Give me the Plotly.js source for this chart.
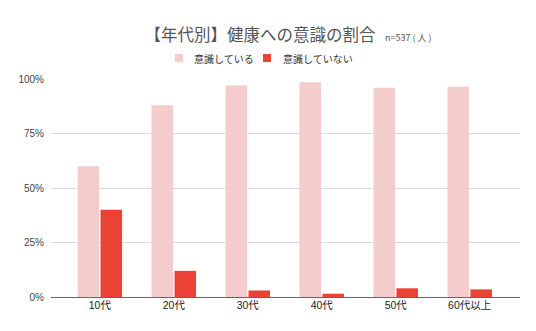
<!DOCTYPE html>
<html><head><meta charset="utf-8">
<script src="https://cdn.plot.ly/plotly-3.0.1.min.js"></script>
<style>html,body{margin:0;padding:0;background:#fff}#c{width:536px;height:331px}</style>
</head><body><div id="c"></div>
<script>
const categories = ['10代','20代','30代','40代','50代','60代以上'];
const conscious = [0.60, 0.88, 0.97, 0.985, 0.96, 0.965];
const notConscious = [0.40, 0.12, 0.03, 0.015, 0.04, 0.035];
const seriesNames = ['意識している','意識していない'];
const seriesColors = ['#f4cccc','#ea4335'];
const yTicks = [0, 0.25, 0.5, 0.75, 1];
const yTickLabels = ['0%','25%','50%','75%','100%'];

const F = '"Noto Sans CJK JP", "Noto Sans", sans-serif';
const FL = '"Liberation Sans", "Noto Sans CJK JP", sans-serif';
const W = 536, H = 331, L = 51, R = 16, T = 79, B = 34;
const pw = W - L - R, ph = H - T - B;
const px = x => (x - L) / pw;        // pixel -> paper x
const py = y => (H - B - y) / ph;    // pixel -> paper y

const traces = seriesNames.map((n, i) => ({
  type:'bar', name:n, x:categories, y:[conscious, notConscious][i],
  marker:{color:seriesColors[i]}, hoverinfo:'none', showlegend:false
}));

// custom legend (swatch + label), placed like the reference
const legendItems = [{sx:175, tx:192}, {sx:263, tx:281}];
const shapes = legendItems.map((it, i) => ({
  type:'rect', xref:'paper', yref:'paper', x0:px(it.sx), x1:px(it.sx+8), y0:py(62), y1:py(54),
  fillcolor:seriesColors[i], line:{width:0}
}));
const annotations = legendItems.map((it, i) => ({
  text:seriesNames[i], xref:'paper', yref:'paper', x:px(it.tx), y:py(58), xanchor:'left', yanchor:'middle',
  showarrow:false, font:{family:F, size:10, color:'#333'}
}));
annotations.push({text:'n=537 ( 人 )', xref:'paper', yref:'paper', x:px(383), y:py(37), xanchor:'left', yanchor:'middle', showarrow:false, font:{family:F, size:9, color:'#555'}});

const layout = {
  width:W, height:H,
  margin:{l:L, r:R, t:T, b:B},
  paper_bgcolor:'#fff', plot_bgcolor:'#fff',
  font:{family:F, color:'#333', size:11},
  title:{text:'【年代別】健康への意識の割合', x:260/W, xanchor:'center', xref:'container', y:1-35/H, yanchor:'middle', yref:'container', font:{family:F, size:16.5, color:'#555'}},
  barmode:'group', bargap:0.38, bargroupgap:0.06,
  showlegend:false,
  xaxis:{type:'category', range:[-0.66, 5.68], showgrid:false, showline:false, ticks:'', tickfont:{family:FL, size:10.5, color:'#222'}, fixedrange:true},
  yaxis:{range:[0,1], tickvals:yTicks, ticktext:yTickLabels, showgrid:true, gridcolor:'#dcdcdc', gridwidth:1, zeroline:true, zerolinecolor:'#666', zerolinewidth:1, showline:false, ticks:'', ticklabelstandoff:6, tickfont:{family:FL, size:10, color:'#444'}, fixedrange:true},
  shapes:shapes,
  annotations:annotations
};
Plotly.newPlot('c', traces, layout, {displayModeBar:false, staticPlot:true});
</script></body></html>
